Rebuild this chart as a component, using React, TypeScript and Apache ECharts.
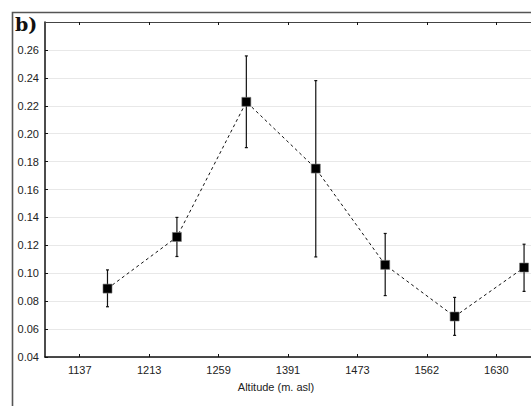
import React, { useEffect, useRef } from "react";
import * as echarts from "echarts";

const altitudes = ["1137", "1213", "1259", "1391", "1473", "1562", "1630"];
const means = [0.089, 0.126, 0.2228, 0.175, 0.106, 0.069, 0.1041];
const upper = [0.1024, 0.14, 0.2557, 0.238, 0.1285, 0.0827, 0.1208];
const lower = [0.076, 0.112, 0.19, 0.1117, 0.084, 0.0555, 0.087];
const yTicks = [0.04, 0.06, 0.08, 0.1, 0.12, 0.14, 0.16, 0.18, 0.2, 0.22, 0.24, 0.26, 0.28];
const pointOffset = 0.4;

export default function App() {
  const ref = useRef<HTMLDivElement>(null);
  useEffect(() => {
    if (!ref.current) return;
    const chart = echarts.init(ref.current, undefined, { renderer: "svg" });
    const lineData = means.map((m, i) => [i + pointOffset, m]);
    const errData = means.map((m, i) => [i + pointOffset, lower[i], upper[i]]);
    const font = "Liberation Sans, Arial, sans-serif";
    chart.setOption({
      animation: false,
      backgroundColor: "#ffffff",
      grid: { left: 45, top: 22, width: 490, height: 335, containLabel: false },
      xAxis: [
        {
          type: "category",
          data: altitudes,
          position: "bottom",
          boundaryGap: true,
          axisLine: { show: true, onZero: false, lineStyle: { color: "#111", width: 1.5 } },
          axisTick: { show: true, inside: true, alignWithLabel: true, length: 3, lineStyle: { color: "#111" } },
          axisLabel: { color: "#222", fontFamily: font, fontSize: 11, margin: 7 },
          splitLine: { show: false },
        },
        {
          type: "category",
          data: altitudes,
          position: "top",
          boundaryGap: true,
          axisLine: { show: true, onZero: false, lineStyle: { color: "#444", width: 1.2 } },
          axisTick: { show: true, inside: true, alignWithLabel: true, length: 3, lineStyle: { color: "#111" } },
          axisLabel: { show: false },
          splitLine: { show: false },
        },
        {
          type: "value",
          min: -0.5,
          max: altitudes.length - 0.5,
          show: false,
          axisLine: { onZero: false },
          splitLine: { show: false },
        },
      ],
      yAxis: {
        type: "value",
        min: yTicks[0],
        max: yTicks[yTicks.length - 1],
        interval: 0.02,
        axisLine: { show: true, onZero: false, lineStyle: { color: "#111", width: 1.5 } },
        axisTick: { show: true, inside: true, length: 3, lineStyle: { color: "#111" } },
        axisLabel: {
          color: "#222",
          fontFamily: font,
          fontSize: 11,
          margin: 6,
          showMaxLabel: false,
          formatter: (v: number) => v.toFixed(2),
        },
        splitLine: { show: true, lineStyle: { color: "#e8e8e8", width: 1 } },
      },
      graphic: [
        {
          type: "rect",
          shape: { x: 12.5, y: 12.5, width: 600, height: 500 },
          style: { fill: "none", stroke: "#555", lineWidth: 1.6 },
          silent: true,
        },
        {
          type: "text",
          x: 15,
          y: 14,
          style: {
            text: "b)",
            font: "bold 19px 'DejaVu Serif', serif",
            fill: "#111",
          },
        },
        {
          type: "text",
          x: 276,
          y: 387,
          style: {
            text: "Altitude (m. asl)",
            font: "11px 'Liberation Sans', Arial, sans-serif",
            fill: "#222",
            align: "center",
            verticalAlign: "middle",
          },
        },
      ],
      series: [
        {
          type: "custom",
          xAxisIndex: 2,
          z: 1,
          data: errData,
          renderItem: (params: any, api: any) => {
            const x = api.value(0);
            const lo = api.coord([x, api.value(1)]);
            const hi = api.coord([x, api.value(2)]);
            const cap = 1.5;
            const st = { stroke: "#111", lineWidth: 1.2 };
            return {
              type: "group",
              children: [
                { type: "line", shape: { x1: lo[0], y1: lo[1], x2: hi[0], y2: hi[1] }, style: st },
                { type: "line", shape: { x1: lo[0] - cap, y1: lo[1], x2: lo[0] + cap, y2: lo[1] }, style: st },
                { type: "line", shape: { x1: hi[0] - cap, y1: hi[1], x2: hi[0] + cap, y2: hi[1] }, style: st },
              ],
            };
          },
        },
        {
          type: "line",
          xAxisIndex: 2,
          z: 3,
          data: lineData,
          symbol: "rect",
          symbolSize: 9,
          lineStyle: { color: "#111", width: 1, type: [3, 3] },
          itemStyle: { color: "#000", borderColor: "#777", borderWidth: 0.6 },
        },
      ],
    });
    return () => chart.dispose();
  }, []);
  return (
    <div
      ref={ref}
      style={{ position: "fixed", left: 0, top: 0, width: 531, height: 406 }}
    />
  );
}
